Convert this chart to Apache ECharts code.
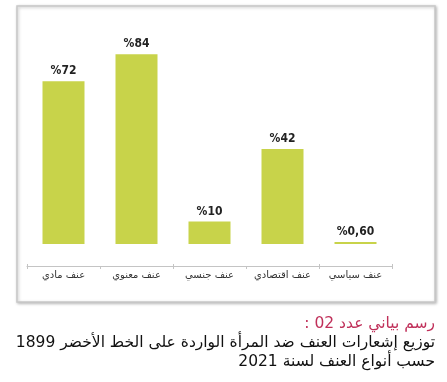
<!DOCTYPE html>
<html>
<head>
<meta charset="utf-8">
<script src="https://cdn.jsdelivr.net/npm/echarts@6/dist/echarts.min.js"></script>
<style>
html,body{margin:0;padding:0;background:#fff;}
#c{width:447px;height:382px;direction:rtl;}
</style>
</head>
<body>
<div id="c"></div>
<script>
var categories = ['عنف مادي', 'عنف معنوي', 'عنف جنسي', 'عنف اقتصادي', 'عنف سياسي'];
var values = [72, 84, 10, 42, 0.6];
var valueLabels = ['%72', '%84', '%10', '%42', '%0,60'];
var captionTitle = 'رسم بياني عدد 02 :';
var captionLine1 = 'توزيع إشعارات العنف ضد المرأة الواردة على الخط الأخضر 1899';
var captionLine2 = 'حسب أنواع العنف لسنة 2021';

var chart = echarts.init(document.getElementById('c'), null, {renderer: 'canvas'});
var arabicFont = "'DejaVu Sans', 'Noto Sans', sans-serif";
chart.setOption({
  animation: false,
  backgroundColor: '#fff',
  grid: {left: 27, right: 55, top: 18, bottom: 116},
  xAxis: [{
    type: 'category',
    data: categories,
    axisLine: {onZero: false, lineStyle: {color: '#c4c4c4', width: 1}},
    axisTick: {show: true, length: 3, lineStyle: {color: '#c4c4c4'}},
    axisLabel: {color: '#333', fontSize: 10, fontFamily: arabicFont, margin: 4, interval: 0, hideOverlap: false}
  }, {
    type: 'category',
    data: categories,
    position: 'bottom',
    axisLine: {show: false, onZero: false},
    axisTick: {show: true, inside: true, length: 2, lineStyle: {color: '#c4c4c4'}},
    axisLabel: {show: false}
  }],
  yAxis: {
    type: 'value', min: -9.7, max: 100,
    show: false, splitLine: {show: false}
  },
  graphic: [
    {type: 'rect', z: -1, shape: {x: 17, y: 6, width: 418, height: 296},
     style: {fill: '#fff', stroke: '#c8c8c8', lineWidth: 1.5, shadowBlur: 3, shadowColor: 'rgba(0,0,0,0.25)', shadowOffsetX: 1, shadowOffsetY: 1}},
    {type: 'text', right: 12, top: 316,
     style: {text: captionTitle, fill: '#c0305a', font: "15.5px " + arabicFont}},
    {type: 'text', right: 12, top: 335,
     style: {text: captionLine1, fill: '#111', font: "15.5px " + arabicFont}},
    {type: 'text', right: 12, top: 354,
     style: {text: captionLine2, fill: '#111', font: "15.5px " + arabicFont}}
  ],
  series: [{
    type: 'bar',
    data: values,
    barWidth: 42,
    barMinHeight: 2,
    itemStyle: {color: '#c8d34a'},
    label: {
      show: true, position: 'top', distance: 4,
      color: '#222', fontSize: 12, fontWeight: 'bold',
      fontFamily: "'Liberation Sans Narrow', 'DejaVu Sans Condensed', sans-serif",
      formatter: function (p) { return valueLabels[p.dataIndex]; }
    }
  }]
});
</script>
</body>
</html>
